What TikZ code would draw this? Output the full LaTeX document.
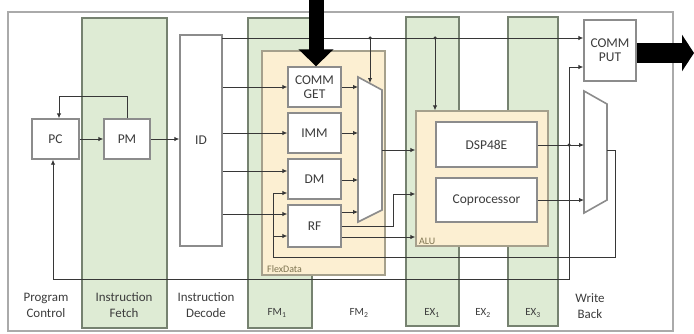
\documentclass[tikz,border=0pt]{standalone}
\usepackage{fontspec}
\setmainfont{Carlito}
\usetikzlibrary{arrows.meta}
\definecolor{colgreen}{RGB}{222,235,212}
\definecolor{colgreenb}{RGB}{118,130,112}
\definecolor{flexfill}{RGB}{252,239,210}
\definecolor{flexb}{RGB}{165,160,140}
\definecolor{boxb}{RGB}{140,140,140}
\definecolor{linec}{RGB}{55,55,55}
\definecolor{txt}{RGB}{60,60,60}
\definecolor{smalltxt}{RGB}{125,115,80}
\definecolor{framec}{RGB}{170,170,170}
\begin{document}
\begin{tikzpicture}[x=1bp,y=-1bp,
  colband/.style={fill=colgreen, draw=colgreenb, line width=1.1bp},
  blk/.style={draw=boxb, fill=white, line width=1.4bp, inner sep=0pt, font=\fontsize{13.5}{14}\selectfont, text=txt, align=center},
  grp/.style={draw=flexb, fill=flexfill, line width=1.4bp, inner sep=0pt},
  muxshape/.style={draw=boxb, fill=white, line width=1.6bp},
  conn/.style={draw=linec, line width=0.9bp, -{Latex[length=5bp,width=4.5bp]}},
  lbl/.style={font=\fontsize{13}{16}\selectfont, text=txt, align=center},
  sublbl/.style={font=\fontsize{11}{13}\selectfont, text=txt},
  smalllbl/.style={font=\fontsize{10}{12}\selectfont, text=smalltxt, inner sep=0pt},
  jdot/.style={circle, fill=linec, inner sep=0pt, minimum size=3.5bp}]
\useasboundingbox (0,0) rectangle (694,333);
% outer frame
\draw[draw=framec, line width=1.6bp] (8,12) rectangle (673,331);
% pipeline columns
\draw[colband] (82,18) rectangle (167,328);
\draw[colband] (248,18) rectangle (312,328);
\draw[colband] (406,17) rectangle (459,326);
\draw[colband] (508,17) rectangle (558,326);
% groups
\node[grp, minimum width=123bp, minimum height=224bp] (flex) at (323.5,163) {};
\node[smalllbl, anchor=base west] (flexlbl) at (267,272) {FlexData};
\node[grp, minimum width=132bp, minimum height=135bp] (alu) at (482,178.5) {};
\node[smalllbl, anchor=base west] (alulbl) at (419,244) {ALU};
% blocks
\node[blk, minimum width=47bp, minimum height=40bp] (pc) at (55.5,139) {PC};
\node[blk, minimum width=46bp, minimum height=40bp] (pm) at (127,139) {PM};
\node[blk, minimum width=42bp, minimum height=211bp] (id) at (201,140.5) {ID};
\node[blk, minimum width=53bp, minimum height=40bp] (cget) at (314.5,87) {COMM\\GET};
\node[blk, minimum width=53bp, minimum height=40bp] (imm) at (314.5,133) {IMM};
\node[blk, minimum width=53bp, minimum height=40bp] (dm) at (314.5,179) {DM};
\node[blk, minimum width=53bp, minimum height=42bp] (rf) at (314.5,226) {RF};
\node[blk, minimum width=101bp, minimum height=45bp] (dsp) at (486.5,144.5) {DSP48E};
\node[blk, minimum width=101bp, minimum height=44bp] (cop) at (486.5,200) {Coprocessor};
\node[blk, minimum width=52bp, minimum height=61bp] (cput) at (610,50.5) {COMM\\PUT};
% multiplexers
\draw[muxshape] (358,77) -- (382,90) -- (382,210) -- (358,222) -- cycle;
\draw[muxshape] (584,91) -- (607,104) -- (607,200) -- (584,213) -- cycle;
\coordinate (m1a) at (358,87);
\coordinate (m1b) at (358,133);
\coordinate (m1c) at (358,180);
\coordinate (m1d) at (358,212);
\coordinate (m1s) at (370,83);
\coordinate (m1o) at (382,150);
\coordinate (m2a) at (584,145);
\coordinate (m2b) at (584,200);
\coordinate (m2o) at (607,150);
\coordinate (t0) at (222,38);
% connectors
\draw[conn] (pc.east) -- (pm.west);
\draw[conn] (pm.east) -- (pm.east -| id.west);
\draw[conn] (pm.north) -- ++(0,-22) -| ([xshift=3.5bp]pc.north);
\draw[conn] (t0) -- (t0 -| cput.west);
\node[jdot] (d1) at (370,38) {};
\node[jdot] (d2) at (435,38) {};
\draw[conn] (d1.center) -- (m1s);
\draw[conn] (d2.center) -- (d2.center |- alu.north);
\draw[conn] (id.east |- cget.west) -- (cget.west);
\draw[conn] (id.east |- imm.west) -- (imm.west);
\draw[conn] (id.east |- 0,171) -- (dm.west |- 0,171);
\draw[conn] (id.east |- 0,214) -- (rf.west |- 0,214);
\draw[conn] (cget.east |- m1a) -- (m1a);
\draw[conn] (imm.east |- m1b) -- (m1b);
\draw[conn] (dm.east |- m1c) -- (m1c);
\draw[conn] (rf.east |- m1d) -- (m1d);
\draw[conn] (m1o) -- (m1o -| alu.west);
\draw[conn] (rf.east |- 0,226) -- (393,226) -- (393,194) -- (alu.west |- 0,194);
\draw[conn] (rf.east |- 0,237) -- (alu.west |- 0,237);
\draw[conn] (dsp.east |- m2a) -- (m2a);
\draw[conn] (cop.east |- m2b) -- (m2b);
\node[jdot] (d3) at (569,145) {};
\draw[conn] (d3.center) -- (569,279) -| ([xshift=-2.5bp]pc.south);
\draw[conn] (d3.center) |- (cput.west |- 0,67);
\draw[conn] (m2o) -- (615,150) -- (615,257) -- (273,257) -- (273,193) -- (dm.west |- 0,193);
\draw[conn] (273,236) -- (rf.west |- 0,236);
% big arrows
\coordinate (inT) at (316,0);
\coordinate (outR) at (694,53);
\draw[line width=15bp, -{Triangle[length=17bp,width=34bp]}] (inT) -- (inT |- cget.north);
\draw[line width=20bp, -{Triangle[length=12bp,width=36bp]}] (cput.east |- outR) -- (outR);
% stage labels
\node[lbl] (lpc) at (46,305) {Program\\Control};
\node[lbl] (lif) at (124,305) {Instruction\\Fetch};
\node[lbl] (lid) at (206,305) {Instruction\\Decode};
\node[sublbl] (lfm1) at (277,313) {FM\textsubscript{1}};
\node[sublbl] (lfm2) at (359,313) {FM\textsubscript{2}};
\node[sublbl] (lex1) at (432,313) {EX\textsubscript{1}};
\node[sublbl] (lex2) at (483,313) {EX\textsubscript{2}};
\node[sublbl] (lex3) at (533,313) {EX\textsubscript{3}};
\node[lbl] (lwb) at (590,306) {Write\\Back};
\end{tikzpicture}
\end{document}
